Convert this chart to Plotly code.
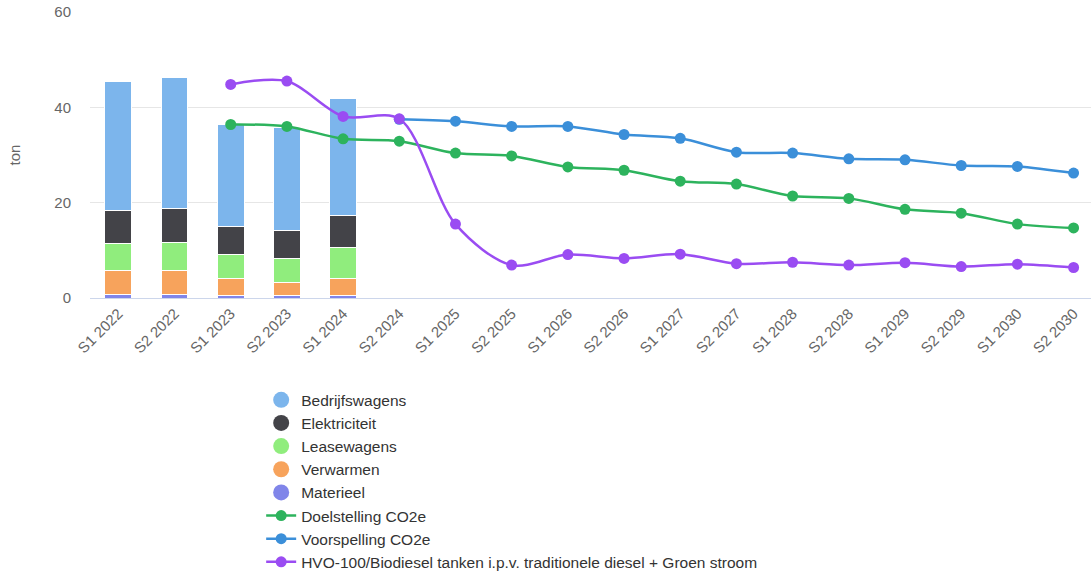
import plotly.graph_objects as go

# Half-year periods on the x axis
periods = [
    "S1 2022", "S2 2022", "S1 2023", "S2 2023", "S1 2024", "S2 2024",
    "S1 2025", "S2 2025", "S1 2026", "S2 2026", "S1 2027", "S2 2027",
    "S1 2028", "S2 2028", "S1 2029", "S2 2029", "S1 2030", "S2 2030",
]

# Realised emissions per source (ton CO2e), only for the measured periods
bar_periods = periods[:5]
materieel = [0.7, 0.8, 0.5, 0.5, 0.5]
verwarmen = [5.0, 5.0, 3.6, 2.7, 3.6]
leasewagens = [5.7, 5.9, 5.1, 5.1, 6.5]
elektriciteit = [7.0, 7.0, 5.9, 5.9, 6.7]
bedrijfswagens = [27.0, 27.6, 21.2, 21.5, 24.5]

# Target path, forecast and reduction scenario (ton CO2e)
doel_periods = periods[2:]
doelstelling = [36.4, 36.0, 33.4, 32.9, 30.4, 29.8, 27.5, 26.8, 24.5, 23.9,
                21.4, 20.9, 18.6, 17.8, 15.5, 14.7]

voorspel_periods = periods[5:]
voorspelling = [37.5, 37.1, 36.0, 36.0, 34.3, 33.5, 30.6, 30.4, 29.2, 29.0,
                27.8, 27.6, 26.2]

hvo_periods = periods[2:]
hvo = [44.8, 45.5, 38.1, 37.6, 15.5, 6.9, 9.1, 8.3, 9.2, 7.2,
       7.5, 6.9, 7.4, 6.6, 7.1, 6.4]

FONT = "Liberation Sans, Arial, sans-serif"

bar_series = [
    ("Materieel", materieel, "#8085e9"),
    ("Verwarmen", verwarmen, "#f7a35c"),
    ("Leasewagens", leasewagens, "#90ed7d"),
    ("Elektriciteit", elektriciteit, "#434348"),
    ("Bedrijfswagens", bedrijfswagens, "#7cb5ec"),
]

fig = go.Figure()

# Stacked bars (bottom to top), legend handled by circle entries below
for name, vals, color in bar_series:
    fig.add_trace(go.Bar(
        x=bar_periods, y=vals, name=name, legendgroup=name,
        marker=dict(color=color, line=dict(color="white", width=1)),
        showlegend=False,
    ))

# Circular legend entries for the stacked sources
legend_order = ["Bedrijfswagens", "Elektriciteit", "Leasewagens", "Verwarmen", "Materieel"]
colors = {n: c for n, _, c in bar_series}
for i, name in enumerate(legend_order):
    fig.add_trace(go.Scatter(
        x=[None], y=[None], mode="markers", name=name, legendgroup=name,
        marker=dict(symbol="circle", size=16, color=colors[name]),
        legendrank=i + 1,
    ))

line_series = [
    ("Doelstelling CO2e", doel_periods, doelstelling, "#2db35d"),
    ("Voorspelling CO2e", voorspel_periods, voorspelling, "#3b8fd9"),
    ("HVO-100/Biodiesel tanken i.p.v. traditionele diesel + Groen stroom",
     hvo_periods, hvo, "#9a4cf2"),
]
for j, (name, xs, ys, color) in enumerate(line_series):
    fig.add_trace(go.Scatter(
        x=xs, y=ys, name=name, mode="lines+markers",
        line=dict(color=color, width=2.5, shape="spline", smoothing=0.9),
        marker=dict(color=color, size=11),
        legendrank=10 + j,
    ))

fig.update_layout(
    width=1091, height=574,
    margin=dict(l=90, r=0, t=12, b=276, autoexpand=False),
    barmode="stack",
    bargap=0.525,
    plot_bgcolor="white",
    paper_bgcolor="white",
    font=dict(family=FONT, size=15, color="#666666"),
    showlegend=True,
    legend=dict(
        orientation="v",
        x=0.171, xanchor="left",
        y=-0.298, yanchor="top",
        font=dict(family=FONT, size=15.5, color="#333333"),
        traceorder="normal",
        bgcolor="rgba(0,0,0,0)",
    ),
    xaxis=dict(
        type="category",
        categoryorder="array", categoryarray=periods,
        range=[-0.504, 17.31],
        tickangle=-45,
        tickfont=dict(size=15, color="#666666"),
        showgrid=False,
        showline=True, linecolor="#ccd6eb", linewidth=1,
        ticks="",
        automargin=False,
        fixedrange=True,
    ),
    yaxis=dict(
        range=[0, 60],
        dtick=20,
        gridcolor="#e6e6e6", gridwidth=1,
        zeroline=False,
        showline=False,
        ticks="",
        ticklabelstandoff=18,
        tickfont=dict(size=15, color="#666666"),
        title=dict(text="ton", font=dict(size=15, color="#666666"), standoff=30),
        automargin=False,
    ),
)

fig.write_html("out.html")
